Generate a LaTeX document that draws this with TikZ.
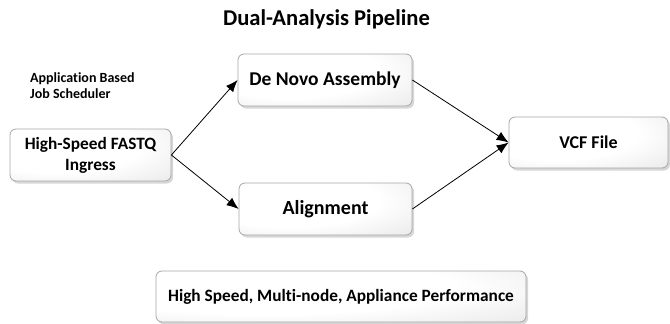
\documentclass[tikz,border=0pt]{standalone}
\usepackage{fontspec}
\setmainfont{Carlito}[Ligatures=CommonOff]
\usetikzlibrary{arrows.meta,shadows}
% soft glow: white towards the upper left, light grey at the rim
\pgfdeclareradialshading{boxglow}{\pgfpoint{-14bp}{12bp}}{%
  color(0bp)=(white); color(26bp)=(white); color(58bp)=(gray!26); color(80bp)=(gray!45); color(100bp)=(gray!45)}
\begin{document}
\begin{tikzpicture}[x=1pt,y=1pt,
  box/.style={draw=gray!70, line width=0.8pt, rounded corners=6pt,
    shading=boxglow,
    drop shadow={shadow xshift=2pt, shadow yshift=-2.5pt, fill=gray!70, opacity=0.45},
    font=\bfseries\fontsize{18}{21}\selectfont, align=center, inner sep=0pt},
  flow/.style={line width=0.8pt, -{Latex[length=12pt,width=9.5pt]}},
  note/.style={font=\bfseries\fontsize{14}{16}\selectfont, align=left, anchor=north west, inner sep=0pt}]
\useasboundingbox (0,0) rectangle (670,-324);
\node[font=\bfseries\fontsize{22.6}{26}\selectfont] (title) at (326.5,-19) {Dual-Analysis Pipeline};
\node[note] (sched) at (30,-72) {Application Based\\Job Scheduler};
\node[box, minimum width=161, minimum height=52, font=\bfseries\fontsize{17.3}{21}\selectfont] (ingress) at (90.5,-155) {High-Speed FASTQ\\Ingress};
\node[box, minimum width=174, minimum height=52, font=\bfseries\fontsize{19.5}{22}\selectfont] (denovo) at (325,-80) {De Novo Assembly};
\node[box, minimum width=173, minimum height=52, font=\bfseries\fontsize{20}{22}\selectfont] (align) at (325.5,-209) {Alignment};
\node[box, minimum width=159, minimum height=51] (vcf) at (588.5,-142.5) {VCF File};
\node[box, minimum width=370, minimum height=51, font=\bfseries\fontsize{17.3}{20}\selectfont] (perf) at (341,-296.5) {High Speed, Multi-node, Appliance Performance};
\draw[flow] (ingress.east) -- (denovo.west);
\draw[flow] (ingress.east) -- (align.west);
\draw[flow] (denovo.east) -- (vcf.west);
\draw[flow] (align.east) -- (vcf.west);
\end{tikzpicture}
\end{document}
